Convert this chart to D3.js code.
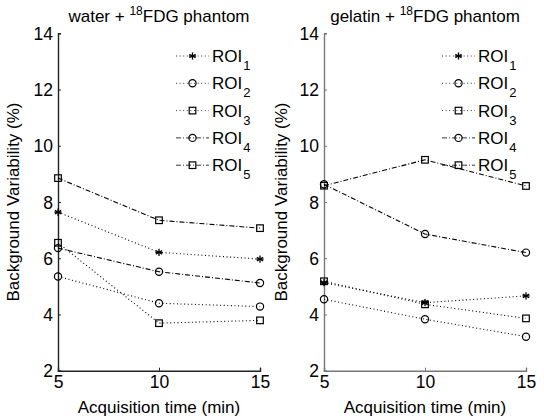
<!DOCTYPE html>
<html>
<head>
<meta charset="utf-8">
<script src="https://cdn.jsdelivr.net/npm/d3@7"></script>
<style>
  body { margin: 0; background: #fff; }
  svg { font-family: "Liberation Sans", Arial, sans-serif; }
</style>
</head>
<body>
<svg id="chart" width="544" height="418"></svg>
<script>
(function() {

const times = [5, 10, 15];
const roiNames = ["1", "2", "3", "4", "5"];
const yTicks = [2, 4, 6, 8, 10, 12, 14];

// water + 18FDG phantom
const water1 = [7.64, 6.21, 5.97];
const water2 = [5.35, 4.40, 4.28];
const water3 = [6.55, 3.69, 3.79];
const water4 = [6.36, 5.52, 5.12];
const water5 = [8.85, 7.35, 7.07];

// gelatin + 18FDG phantom
const gel1 = [5.13, 4.42, 4.66];
const gel2 = [4.54, 3.83, 3.21];
const gel3 = [5.18, 4.36, 3.86];
const gel4 = [8.63, 6.86, 6.20];
const gel5 = [8.58, 9.50, 8.57];

const markers = ["star", "circle", "square", "circle", "square"];
const dashes = ["1,2.6", "1,2.6", "1,2.6", "5,2,1,2", "5,2,1,2"];

const svg = d3.select("#chart");

const panels = [
    { title: "water", series: [water1, water2, water3, water4, water5],
      left: 58, right: 260, axisColor: "#222", labelX: 19 },
    { title: "gelatin", series: [gel1, gel2, gel3, gel4, gel5],
      left: 324, right: 526, axisColor: "#777", labelX: 287 }
];

const top = 33.3, bottom = 370.7;

function drawMarker(g, type, x, y) {
    if (type === "circle") {
        g.append("circle").attr("cx", x).attr("cy", y).attr("r", 3.6)
            .attr("fill", "none").attr("stroke", "#000").attr("stroke-width", 1.2);
    } else if (type === "square") {
        g.append("rect").attr("x", x - 3.3).attr("y", y - 3.3)
            .attr("width", 6.6).attr("height", 6.6)
            .attr("fill", "none").attr("stroke", "#000").attr("stroke-width", 1.2);
    } else {
        // asterisk
        const r = 3.6;
        [0, 60, 120].forEach(function(a) {
            const rad = a * Math.PI / 180;
            g.append("line")
                .attr("x1", x - r * Math.sin(rad)).attr("y1", y - r * Math.cos(rad))
                .attr("x2", x + r * Math.sin(rad)).attr("y2", y + r * Math.cos(rad))
                .attr("stroke", "#000").attr("stroke-width", 1.3);
        });
        g.append("line").attr("x1", x - r).attr("x2", x + r)
            .attr("y1", y).attr("y2", y).attr("stroke", "#000").attr("stroke-width", 1.3);
    }
}

panels.forEach(function(p) {
    const x = d3.scaleLinear().domain([5, 15]).range([p.left, p.right]);
    const y = d3.scaleLinear().domain([2, 14]).range([bottom, top]);
    const g = svg.append("g");

    // axes (MATLAB style: ticks inside, box off)
    const yAxis = g.append("g")
        .attr("transform", "translate(" + p.left + ",0)")
        .call(d3.axisLeft(y).tickValues(yTicks).tickSize(-3).tickPadding(5).tickFormat(d3.format("d")));
    const xAxis = g.append("g")
        .attr("transform", "translate(0," + bottom + ")")
        .call(d3.axisBottom(x).tickValues(times).tickSize(-3).tickPadding(5).tickFormat(d3.format("d")));

    [yAxis, xAxis].forEach(function(a) {
        a.select(".domain").attr("stroke", p.axisColor).attr("stroke-width", 1.4);
        a.selectAll(".tick line").attr("stroke", p.axisColor);
        a.selectAll("text").attr("fill", "#000").attr("font-size", 17.5)
            .attr("font-family", "Liberation Sans, Arial, sans-serif");
    });
    yAxis.selectAll("text").attr("dy", "0.35em");
    xAxis.selectAll("text").attr("dy", "0.72em");

    // series
    const line = d3.line().x((d, i) => x(times[i])).y(d => y(d));
    p.series.forEach(function(s, k) {
        g.append("path").datum(s).attr("d", line)
            .attr("fill", "none").attr("stroke", "#000").attr("stroke-width", 1.1)
            .attr("stroke-dasharray", dashes[k]);
    });
    p.series.forEach(function(s, k) {
        s.forEach(function(v, i) { drawMarker(g, markers[k], x(times[i]), y(v)); });
    });

    // legend
    const lx = p.right - 84, ly0 = 56, step = 27.3;
    roiNames.forEach(function(n, k) {
        const yy = ly0 + k * step;
        const lg = svg.append("g");
        lg.append("line").attr("x1", lx).attr("x2", lx + 33).attr("y1", yy).attr("y2", yy)
            .attr("stroke", "#000").attr("stroke-width", 0.8).attr("stroke-dasharray", dashes[k]);
        drawMarker(lg, markers[k], lx + 16.5, yy);
        const t = lg.append("text").attr("x", lx + 36).attr("y", yy + 6)
            .attr("font-size", 17).attr("fill", "#000");
        t.append("tspan").text("ROI");
        t.append("tspan").attr("dx", 1).attr("dy", 8).attr("font-size", 13).text(n);
    });

    // titles and labels
    const tt = svg.append("text").attr("x", (p.left + p.right) / 2).attr("y", 22)
        .attr("text-anchor", "middle").attr("font-size", 17).attr("fill", "#000");
    tt.append("tspan").text(p.title + " + ");
    tt.append("tspan").attr("dy", -7).attr("font-size", 12).text("18");
    tt.append("tspan").attr("dy", 7).text("FDG phantom");

    svg.append("text").attr("x", (p.left + p.right) / 2).attr("y", 413)
        .attr("text-anchor", "middle").attr("font-size", 17).attr("fill", "#000")
        .text("Acquisition time (min)");

    svg.append("text")
        .attr("transform", "translate(" + p.labelX + "," + ((top + bottom) / 2) + ") rotate(-90)")
        .attr("text-anchor", "middle").attr("font-size", 17).attr("fill", "#000")
        .text("Background Variability (%)");
});

})();
</script>
</body>
</html>
